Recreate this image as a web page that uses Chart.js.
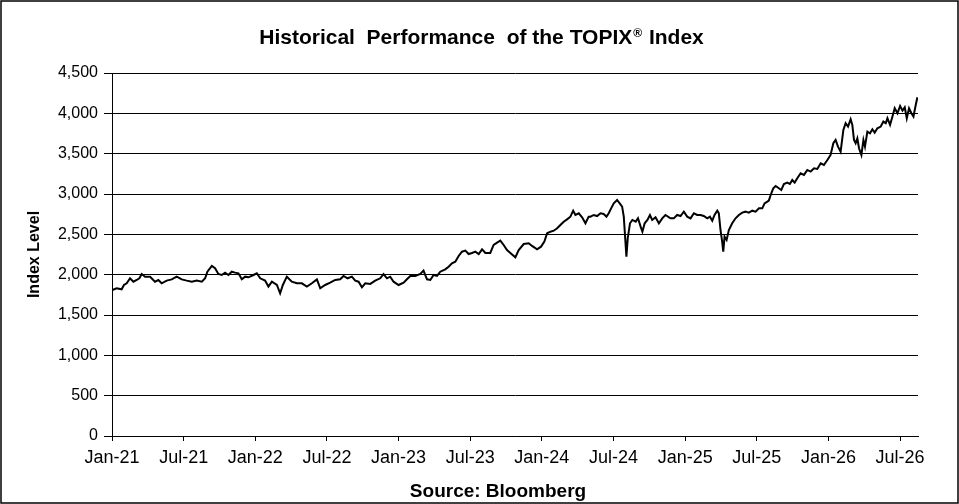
<!DOCTYPE html>
<html>
<head>
<meta charset="utf-8">
<style>
  body { margin: 0; background: #fff; }
  #topixChart { display: block; }
</style>
</head>
<body>
<canvas id="topixChart" width="959" height="504"></canvas>

<script src="https://cdn.jsdelivr.net/npm/chart.js"></script>
<script>
// months after Jan-21 (x) and index level (y)
const monthOffsets = [
  0.03, 0.39, 0.81, 1.00, 1.23, 1.51, 1.79, 2.07, 2.29, 2.49, 2.77, 3.19, 3.60, 3.88, 4.16, 4.58,
  5.00, 5.42, 5.84, 6.26, 6.68, 7.10, 7.52, 7.80, 7.99, 8.36, 8.63, 8.91, 9.19, 9.47, 9.75, 10.03,
  10.31, 10.59, 10.87, 11.15, 11.43, 11.85, 12.13, 12.41, 12.82, 13.10, 13.39, 13.81, 14.08, 14.31,
  14.64, 15.06, 15.48, 15.90, 16.32, 16.74, 17.16, 17.44, 17.85, 18.27, 18.69, 19.11, 19.39, 19.73,
  20.09, 20.37, 20.65, 20.93, 21.21, 21.63, 22.04, 22.46, 22.74, 23.03, 23.30, 23.58, 24.00, 24.42,
  24.70, 24.98, 25.40, 25.82, 26.09, 26.38, 26.66, 26.93, 27.22, 27.49, 27.91, 28.19, 28.47, 28.75,
  29.03, 29.31, 29.59, 29.87, 30.15, 30.43, 30.71, 30.99, 31.27, 31.68, 31.96, 32.25, 32.52, 32.80,
  33.08, 33.36, 33.78, 34.06, 34.48, 34.90, 35.18, 35.60, 35.93, 36.21, 36.44, 36.72, 37.00, 37.28,
  37.55, 37.83, 38.11, 38.39, 38.62, 38.81, 39.09, 39.37, 39.65, 39.92, 40.07, 40.34, 40.63, 40.91,
  41.18, 41.41, 41.60, 41.80, 42.02, 42.30, 42.52, 42.72, 42.86, 42.97, 43.08, 43.19, 43.38, 43.58,
  43.86, 44.05, 44.27, 44.42, 44.61, 44.84, 45.05, 45.24, 45.52, 45.80, 46.08, 46.35, 46.77, 47.05,
  47.33, 47.61, 47.89, 48.17, 48.45, 48.73, 49.01, 49.29, 49.56, 49.85, 50.07, 50.27, 50.46, 50.69,
  50.82, 50.96, 51.10, 51.19, 51.30, 51.47, 51.66, 51.94, 52.22, 52.50, 52.78, 53.06, 53.33, 53.62,
  53.90, 54.18, 54.46, 54.65, 54.88, 55.01, 55.16, 55.38, 55.58, 55.85, 56.05, 56.27, 56.55, 56.77,
  56.97, 57.17, 57.39, 57.67, 57.95, 58.23, 58.51, 58.79, 59.07, 59.35, 59.62, 59.91, 60.18, 60.41,
  60.60, 60.80, 61.02, 61.25, 61.44, 61.64, 61.86, 62.00, 62.14, 62.28, 62.42, 62.56, 62.76, 62.93,
  63.06, 63.26, 63.48, 63.68, 63.87, 64.10, 64.38, 64.60, 64.80, 64.94, 65.16, 65.36, 65.55, 65.78,
  66.00, 66.20, 66.39, 66.56, 66.75, 66.95, 67.12, 67.31, 67.45
];

const indexLevels = [
  1810, 1831, 1819, 1872, 1893, 1955, 1913, 1934, 1955, 2008, 1975, 1975, 1913, 1934, 1893, 1926,
  1942, 1975, 1942, 1926, 1913, 1926, 1913, 1955, 2037, 2108, 2079, 2008, 1996, 2025, 1996, 2037,
  2025, 2017, 1942, 1975, 1967, 1996, 2017, 1955, 1926, 1852, 1913, 1872, 1769, 1872,
  1975, 1913, 1893, 1893, 1852, 1893, 1942, 1831, 1872, 1901, 1934, 1943, 1984, 1955,
  1975, 1926, 1913, 1843, 1893, 1885, 1926, 1955, 2008, 1955, 1975, 1913, 1872, 1901,
  1943, 1984, 1984, 2008, 2050, 1943, 1934, 1996, 1984, 2037, 2066, 2099, 2141, 2161,
  2232, 2285, 2298, 2256, 2269, 2285, 2256, 2314, 2269, 2269, 2368, 2397, 2422, 2368,
  2306, 2269, 2215, 2306, 2380, 2389, 2356, 2314, 2347, 2409, 2513, 2533, 2545, 2575,
  2616, 2657, 2686, 2719, 2793, 2740, 2761, 2711, 2637, 2719, 2719, 2740, 2727, 2761,
  2752, 2719, 2761, 2822, 2884, 2926, 2884, 2843, 2719, 2471, 2223, 2450, 2637, 2678,
  2657, 2699, 2595, 2533, 2637, 2678, 2740, 2678, 2711, 2637, 2698, 2740, 2698, 2698,
  2740, 2727, 2781, 2719, 2698, 2761, 2740, 2740, 2727, 2699, 2719, 2669, 2740, 2793,
  2761, 2554, 2409, 2285, 2471, 2430, 2554, 2637, 2699, 2740, 2769, 2781, 2769, 2793,
  2781, 2822, 2822, 2884, 2905, 2918, 2988, 3071, 3099, 3071, 3050, 3124, 3141, 3124,
  3174, 3141, 3195, 3257, 3237, 3298, 3278, 3319, 3310, 3381, 3360, 3422, 3484, 3629,
  3670, 3587, 3525, 3794, 3877, 3836, 3926, 3857, 3670, 3629, 3691, 3567, 3484, 3670,
  3587, 3773, 3753, 3802, 3761, 3815, 3836, 3898, 3877, 3939, 3857, 3960, 4063, 4001,
  4091, 4033, 4074, 3939, 4063, 4001, 3960, 4104, 4199
];

const tickMonths = [0, 6, 12, 18, 24, 30, 36, 42, 48, 54, 60, 66];
const tickLabels = ['Jan-21', 'Jul-21', 'Jan-22', 'Jul-22', 'Jan-23', 'Jul-23',
                    'Jan-24', 'Jul-24', 'Jan-25', 'Jul-25', 'Jan-26', 'Jul-26'];

const titleParts = ['Historical  Performance  of the TOPIX', '\u00AE', ' Index'];
const sourceText = 'Source: Bloomberg';

const FONT = '"Liberation Sans", Arial, sans-serif';
Chart.defaults.font.family = FONT;
Chart.defaults.color = '#000';

// outer frame, title (with raised ®) and source line
const frameAndTitles = {
  id: 'frameAndTitles',
  afterDraw(chart) {
    const c = chart.ctx;
    c.save();
    c.strokeStyle = '#000';
    c.lineWidth = 1.5;
    c.strokeRect(1, 1, chart.width - 2, chart.height - 2);

    c.fillStyle = '#000';
    c.textBaseline = 'alphabetic';
    c.textAlign = 'left';
    const big = 'bold 21px ' + FONT;
    const small = 'bold 12px ' + FONT;
    c.font = big;
    const w1 = c.measureText(titleParts[0]).width;
    const w3 = c.measureText(titleParts[2]).width;
    c.font = small;
    const w2 = c.measureText(titleParts[1]).width + 1;
    let x = 481 - (w1 + w2 + w3) / 2;
    const y = 44;
    c.font = big;
    c.fillText(titleParts[0], x, y);
    x += w1 + 1;
    c.font = small;
    c.fillText(titleParts[1], x, y - 7);
    x += w2;
    c.font = big;
    c.fillText(titleParts[2], x, y);

    c.font = 'bold 19px ' + FONT;
    c.textAlign = 'center';
    c.fillText(sourceText, 498, 497);
    c.restore();
  }
};

const ctx = document.getElementById('topixChart');

new Chart(ctx, {
  type: 'line',
  data: {
    datasets: [{
      label: 'TOPIX',
      data: monthOffsets.map((m, i) => ({ x: m, y: indexLevels[i] })),
      borderColor: '#000',
      borderWidth: 2,
      pointRadius: 0,
      fill: false,
      tension: 0
    }]
  },
  options: {
    responsive: false,
    animation: false,
    layout: { padding: { top: 73, right: 41, left: 0, bottom: 0 } },
    plugins: {
      legend: { display: false },
      tooltip: { enabled: false },
      title: { display: false }
    },
    scales: {
      x: {
        type: 'linear',
        min: 0,
        max: 67.5,
        afterBuildTicks(scale) {
          scale.ticks = tickMonths.map(v => ({ value: v }));
        },
        afterFit(scale) { scale.height = 68; },
        ticks: {
          autoSkip: false,
          maxRotation: 0,
          padding: 6,
          font: { size: 18 },
          callback: (v, i) => tickLabels[i]
        },
        grid: { drawOnChartArea: false, drawTicks: true, tickLength: 5, color: '#000' },
        border: { color: '#000', width: 1 }
      },
      y: {
        min: 0,
        max: 4500,
        afterFit(scale) { scale.width = 112; },
        ticks: {
          stepSize: 500,
          padding: 6,
          font: { size: 16 },
          callback: v => v.toLocaleString('en-US')
        },
        grid: { color: '#000', lineWidth: 1, tickLength: 8 },
        border: { color: '#000', width: 1 },
        title: {
          display: true,
          text: 'Index Level',
          font: { size: 16, weight: 'bold' },
          padding: { top: 25, bottom: 0 }
        }
      }
    }
  },
  plugins: [frameAndTitles]
});
</script>
</body>
</html>
